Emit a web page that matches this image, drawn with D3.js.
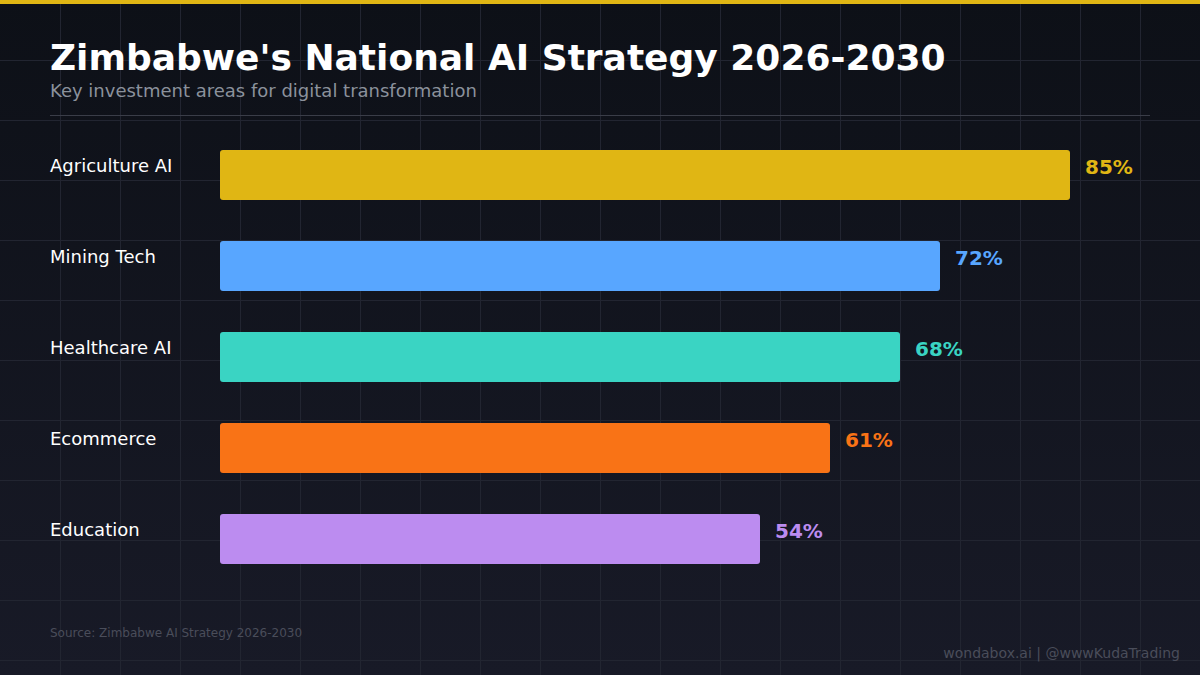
<!DOCTYPE html>
<html><head><meta charset="utf-8">
<script src="https://cdn.jsdelivr.net/npm/d3@7"></script>
<style>html,body{margin:0;padding:0;background:#0d1017;}svg{display:block;}</style>
</head><body>
<script>
const categories = ["Agriculture AI","Mining Tech","Healthcare AI","Ecommerce","Education"];
const values = [85,72,68,61,54];
const colors = ["#e0b614","#58a6ff","#3ad4c3","#f97316","#bc8cf0"];
const title = "Zimbabwe's National AI Strategy 2026-2030";
const subtitle = "Key investment areas for digital transformation";
const source = "Source: Zimbabwe AI Strategy 2026-2030";
const credit = "wondabox.ai | @wwwKudaTrading";

const W=1200,H=675;
const svg=d3.select("body").append("svg").attr("width",W).attr("height",H);
const defs=svg.append("defs");
const g=defs.append("linearGradient").attr("id","bg").attr("x1",0).attr("y1",0).attr("x2",0).attr("y2",1);
g.append("stop").attr("offset","0%").attr("stop-color","#0d1017");
g.append("stop").attr("offset","100%").attr("stop-color","#181a27");
svg.append("rect").attr("width",W).attr("height",H).attr("fill","url(#bg)");

// grid
const grid=svg.append("g").attr("stroke","#222531").attr("stroke-width",1);
d3.range(60,W,60).forEach(x=>grid.append("line").attr("x1",x+0.5).attr("x2",x+0.5).attr("y1",0).attr("y2",H));
d3.range(60,H,60).forEach(y=>grid.append("line").attr("x1",0).attr("x2",W).attr("y1",y+0.5).attr("y2",y+0.5));

svg.append("rect").attr("width",W).attr("height",4).attr("fill","#e0b614");

const font="'DejaVu Sans', sans-serif";
svg.append("text").attr("x",50).attr("y",70).attr("fill","#ffffff").attr("font-family",font)
  .attr("font-size",36).attr("font-weight","bold").text(title);
svg.append("text").attr("x",50).attr("y",97).attr("fill","#8b919c").attr("font-family",font)
  .attr("font-size",18).text(subtitle);
svg.append("line").attr("x1",50).attr("x2",1150).attr("y1",115.5).attr("y2",115.5).attr("stroke","#3a3d48");

const x=d3.scaleLinear().domain([0,100]).range([220,1220]);
const y=d3.scaleBand().domain(categories).range([150,564]).paddingInner(41/91).paddingOuter(0).align(0);

const rows=svg.append("g").selectAll("g").data(categories).join("g");
rows.append("rect").attr("x",x(0)).attr("y",d=>y(d)).attr("width",(d,i)=>x(values[i])-x(0))
  .attr("height",y.bandwidth()).attr("rx",3).attr("fill",(d,i)=>colors[i]);
rows.append("text").attr("x",50).attr("y",d=>y(d)+22).attr("fill","#ffffff").attr("font-family",font)
  .attr("font-size",18).text(d=>d);
rows.append("text").attr("x",(d,i)=>x(values[i])+15).attr("y",d=>y(d)+24).attr("fill",(d,i)=>colors[i])
  .attr("font-family",font).attr("font-size",20).attr("font-weight","bold").text((d,i)=>values[i]+"%");

svg.append("text").attr("x",50).attr("y",637).attr("fill","#4a4d5a").attr("font-family",font)
  .attr("font-size",12).text(source);
svg.append("text").attr("x",1180).attr("y",658).attr("text-anchor","end").attr("fill","#4a4d5a").attr("font-family",font)
  .attr("font-size",14).text(credit);
</script>
</body></html>
